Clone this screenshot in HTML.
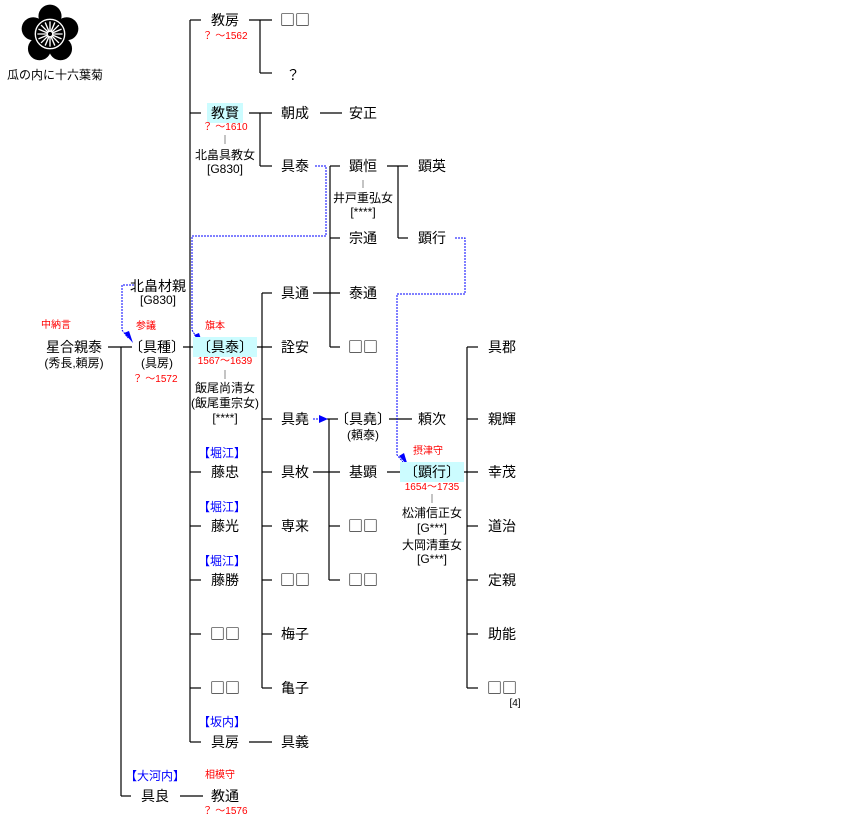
<!DOCTYPE html>
<html><head><meta charset="utf-8"><style>
html,body{margin:0;padding:0;background:#fff}
body{width:857px;height:839px;position:relative;overflow:hidden;font-family:"Liberation Sans","Noto Sans CJK JP",sans-serif;color:#000}
.t{position:absolute;transform:translate(-50%,-50%);white-space:nowrap;font-size:14px;line-height:16px}
.s{font-size:12px;line-height:14px}
.r{color:#f00;font-size:10px;line-height:12px}
.b{color:#00f;font-size:12px;line-height:14px}
.h{background:#ccfcff;padding:2px 4px}
.q{font-family:"Noto Sans CJK JP",sans-serif;font-size:15px}
svg{position:absolute;left:0;top:0}
</style></head><body>
<svg width="857" height="839">
<g transform="translate(50,34) scale(1.05)">
 <g fill="#000">
  <circle cx="0" cy="-17" r="11"/><circle cx="16" cy="-5" r="11"/><circle cx="10" cy="14" r="11"/><circle cx="-10" cy="14" r="11"/><circle cx="-16" cy="-5" r="11"/>
  <circle r="17"/>
 </g>
 <circle r="14" fill="none" stroke="#fff" stroke-width="1.3"/>
 <g stroke="#fff" stroke-width="1.3">
  <line x1="-12" y1="0" x2="12" y2="0"/><line x1="0" y1="-12" x2="0" y2="12"/>
  <line x1="-8.5" y1="-8.5" x2="8.5" y2="8.5"/><line x1="-8.5" y1="8.5" x2="8.5" y2="-8.5"/>
  <line x1="-11" y1="-4.6" x2="11" y2="4.6"/><line x1="-11" y1="4.6" x2="11" y2="-4.6"/>
  <line x1="-4.6" y1="-11" x2="4.6" y2="11"/><line x1="-4.6" y1="11" x2="4.6" y2="-11"/>
 </g>
 <circle r="2.5" fill="#000" stroke="#fff"/>
</g>
<g stroke="#000" stroke-width="1.2" fill="none">
<line x1="108" y1="347" x2="132" y2="347"/>
<line x1="121" y1="347" x2="121" y2="796"/><line x1="121" y1="796" x2="131" y2="796"/>
<line x1="180" y1="796" x2="203" y2="796"/>
<line x1="183" y1="347" x2="201" y2="347"/>
<line x1="190" y1="20" x2="190" y2="742"/>
<line x1="190" y1="20" x2="201" y2="20"/><line x1="190" y1="113" x2="201" y2="113"/>
<line x1="190" y1="472" x2="201" y2="472"/><line x1="190" y1="526" x2="201" y2="526"/><line x1="190" y1="580" x2="201" y2="580"/>
<line x1="190" y1="634" x2="201" y2="634"/><line x1="190" y1="688" x2="201" y2="688"/><line x1="190" y1="742" x2="201" y2="742"/>
<line x1="249" y1="20" x2="272" y2="20"/><line x1="260" y1="20" x2="260" y2="73"/><line x1="260" y1="73" x2="272" y2="73"/>
<line x1="249" y1="113" x2="272" y2="113"/><line x1="260" y1="113" x2="260" y2="166"/><line x1="260" y1="166" x2="272" y2="166"/>
<line x1="320" y1="113" x2="342" y2="113"/>
<line x1="249" y1="347" x2="272" y2="347"/>
<line x1="262" y1="293" x2="262" y2="688"/>
<line x1="262" y1="293" x2="272" y2="293"/><line x1="262" y1="419" x2="272" y2="419"/><line x1="262" y1="472" x2="272" y2="472"/>
<line x1="262" y1="526" x2="272" y2="526"/><line x1="262" y1="580" x2="272" y2="580"/><line x1="262" y1="634" x2="272" y2="634"/><line x1="262" y1="688" x2="272" y2="688"/>
<line x1="249" y1="742" x2="272" y2="742"/>
<line x1="313" y1="293" x2="340" y2="293"/>
<line x1="330" y1="166" x2="330" y2="347"/>
<line x1="330" y1="166" x2="340" y2="166"/><line x1="330" y1="238" x2="340" y2="238"/><line x1="330" y1="347" x2="340" y2="347"/>
<line x1="387" y1="166" x2="408" y2="166"/><line x1="398" y1="166" x2="398" y2="238"/><line x1="398" y1="238" x2="408" y2="238"/>
<line x1="327" y1="419" x2="338" y2="419"/>
<line x1="329" y1="419" x2="329" y2="580"/>
<line x1="313" y1="472" x2="340" y2="472"/><line x1="329" y1="526" x2="340" y2="526"/><line x1="329" y1="580" x2="340" y2="580"/>
<line x1="389" y1="419" x2="412" y2="419"/>
<line x1="387" y1="472" x2="406" y2="472"/>
<line x1="456" y1="472" x2="478" y2="472"/>
<line x1="467" y1="347" x2="467" y2="688"/>
<line x1="467" y1="347" x2="478" y2="347"/><line x1="467" y1="419" x2="478" y2="419"/><line x1="467" y1="526" x2="478" y2="526"/>
<line x1="467" y1="580" x2="478" y2="580"/><line x1="467" y1="634" x2="478" y2="634"/><line x1="467" y1="688" x2="478" y2="688"/>
</g>
<g stroke="#888" stroke-width="1"><line x1="225" y1="135" x2="225" y2="144"/><line x1="225" y1="370" x2="225" y2="379"/><line x1="363" y1="180" x2="363" y2="188"/><line x1="432" y1="494" x2="432" y2="503"/></g>
<g stroke="#00f" stroke-width="1" fill="none" stroke-dasharray="2,1">
<polyline points="134,285 122,285 122,330 128,338"/>
<polyline points="315,166 326,166 326,236 192,236 192,330 198,340"/>
<polyline points="455,238 465,238 465,294 397,294 397,455 403,462"/>
<line x1="313" y1="419" x2="320" y2="419"/>
</g>
<g fill="#00f">
<polygon points="133,343 124,333 129,331"/>
<polygon points="203,345 194,335 199,333"/>
<polygon points="408,466 399,456 404,453"/>
<polygon points="328,419 319,415 319,423"/>
</g>
</svg>
<div class="t s" style="left:55px;top:75px">瓜の内に十六葉菊</div>
<div class="t r" style="left:56px;top:326px">中納言</div>
<div class="t" style="left:74px;top:347px">星合親泰</div>
<div class="t s" style="left:74px;top:363px">(秀長,頼房)</div>
<div class="t" style="left:158px;top:286px">北畠材親</div>
<div class="t s" style="left:158px;top:300px">[G830]</div>
<div class="t r" style="left:146px;top:327px">参議</div>
<div class="t" style="left:157px;top:347px">〔具種〕</div>
<div class="t s" style="left:157px;top:363px">(具房)</div>
<div class="t r" style="left:155px;top:380px">？ ～1572</div>
<div class="t b" style="left:155px;top:776px">【大河内】</div>
<div class="t" style="left:155px;top:796px">具良</div>
<div class="t r" style="left:220px;top:776px">相模守</div>
<div class="t" style="left:225px;top:796px">教通</div>
<div class="t r" style="left:225px;top:812px">？ ～1576</div>
<div class="t" style="left:225px;top:20px">教房</div>
<div class="t r" style="left:225px;top:37px">？ ～1562</div>
<div class="t h" style="left:225px;top:113px">教賢</div>
<div class="t r" style="left:225px;top:128px">？ ～1610</div>
<div class="t s" style="left:225px;top:155px">北畠具教女</div>
<div class="t s" style="left:225px;top:169px">[G830]</div>
<div class="t r" style="left:215px;top:327px">旗本</div>
<div class="t h" style="left:225px;top:347px">〔具泰〕</div>
<div class="t r" style="left:225px;top:362px">1567～1639</div>
<div class="t s" style="left:225px;top:388px">飯尾尚清女</div>
<div class="t s" style="left:225px;top:403px">(飯尾重宗女)</div>
<div class="t s" style="left:225px;top:418px">[****]</div>
<div class="t b" style="left:222px;top:453px">【堀江】</div>
<div class="t" style="left:225px;top:472px">藤忠</div>
<div class="t b" style="left:222px;top:507px">【堀江】</div>
<div class="t" style="left:225px;top:526px">藤光</div>
<div class="t b" style="left:222px;top:561px">【堀江】</div>
<div class="t" style="left:225px;top:580px">藤勝</div>
<div class="t q" style="left:225px;top:634px">□□</div>
<div class="t q" style="left:225px;top:688px">□□</div>
<div class="t b" style="left:222px;top:722px">【坂内】</div>
<div class="t" style="left:225px;top:742px">具房</div>
<div class="t q" style="left:295px;top:20px">□□</div>
<div class="t" style="left:293px;top:75px">？</div>
<div class="t" style="left:295px;top:113px">朝成</div>
<div class="t" style="left:363px;top:113px">安正</div>
<div class="t" style="left:295px;top:166px">具泰</div>
<div class="t" style="left:295px;top:293px">具通</div>
<div class="t" style="left:295px;top:347px">詮安</div>
<div class="t" style="left:295px;top:419px">具堯</div>
<div class="t" style="left:295px;top:472px">具枚</div>
<div class="t" style="left:295px;top:526px">専来</div>
<div class="t q" style="left:295px;top:580px">□□</div>
<div class="t" style="left:295px;top:634px">梅子</div>
<div class="t" style="left:295px;top:688px">亀子</div>
<div class="t" style="left:295px;top:742px">具義</div>
<div class="t" style="left:363px;top:166px">顕恒</div>
<div class="t s" style="left:363px;top:198px">井戸重弘女</div>
<div class="t s" style="left:363px;top:212px">[****]</div>
<div class="t" style="left:363px;top:238px">宗通</div>
<div class="t" style="left:363px;top:293px">泰通</div>
<div class="t q" style="left:363px;top:347px">□□</div>
<div class="t" style="left:363px;top:419px">〔具堯〕</div>
<div class="t s" style="left:363px;top:435px">(頼泰)</div>
<div class="t" style="left:363px;top:472px">基顕</div>
<div class="t q" style="left:363px;top:526px">□□</div>
<div class="t q" style="left:363px;top:580px">□□</div>
<div class="t" style="left:432px;top:166px">顕英</div>
<div class="t" style="left:432px;top:238px">顕行</div>
<div class="t" style="left:432px;top:419px">頼次</div>
<div class="t r" style="left:428px;top:452px">摂津守</div>
<div class="t h" style="left:432px;top:472px">〔顕行〕</div>
<div class="t r" style="left:432px;top:488px">1654～1735</div>
<div class="t s" style="left:432px;top:513px">松浦信正女</div>
<div class="t s" style="left:432px;top:528px">[G***]</div>
<div class="t s" style="left:432px;top:545px">大岡清重女</div>
<div class="t s" style="left:432px;top:559px">[G***]</div>
<div class="t" style="left:502px;top:347px">具郡</div>
<div class="t" style="left:502px;top:419px">親輝</div>
<div class="t" style="left:502px;top:472px">幸茂</div>
<div class="t" style="left:502px;top:526px">道治</div>
<div class="t" style="left:502px;top:580px">定親</div>
<div class="t" style="left:502px;top:634px">助能</div>
<div class="t q" style="left:502px;top:688px">□□</div>
<div class="t s" style="left:515px;top:704px;font-size:10px">[4]</div>
</body></html>
